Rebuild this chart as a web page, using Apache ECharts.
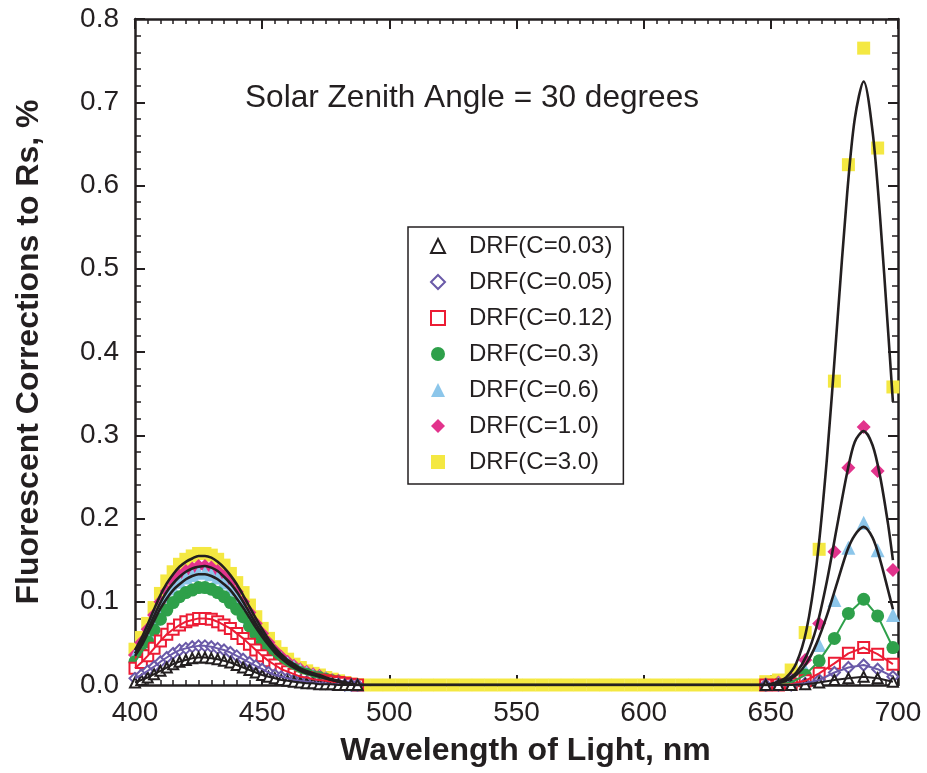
<!DOCTYPE html>
<html>
<head>
<meta charset="utf-8">
<script src="https://cdn.jsdelivr.net/npm/echarts@6/dist/echarts.min.js"></script>
<style>
  html, body { margin: 0; padding: 0; background: #ffffff; }
  #chart { width: 927px; height: 773px; }
</style>
</head>
<body>
<div id="chart"></div>
<script>
// Wavelength grid (nm): blue peak, flat middle band, red (chlorophyll) peak
const WL_BLUE = [400, 402.5, 405, 407.5, 410, 412.5, 415, 417.5, 420, 422.5, 425, 427.5,
  430, 432.5, 435, 437.5, 440, 442.5, 445, 447.5, 450, 452.5, 455, 457.5,
  460, 462.5, 465, 467.5, 470, 472.5, 475, 477.5, 480, 482.5, 485, 487.5];
const WL_MID = [490, 495, 500, 505, 510, 515, 520, 525, 530, 535, 540, 545, 550, 555, 560, 565,
  570, 575, 580, 585, 590, 595, 600, 605, 610, 615, 620, 625, 630, 635, 640, 645];
const WL_RED = [648, 653, 658, 663.5, 669, 675, 680.5, 686.5, 692, 698];
const MID_VALUES = [0, 0, 0, 0, 0, 0, 0, 0, 0, 0, 0, 0, 0, 0, 0, 0,
  0, 0, 0, 0, 0, 0, 0, 0, 0, 0, 0, 0, 0, 0, 0, 0];

// DRF corrections (%) per chlorophyll concentration
const C003_BLUE = [0.003, 0.006, 0.009, 0.013, 0.017, 0.021, 0.025, 0.028, 0.030, 0.032, 0.033, 0.033,
  0.032, 0.031, 0.029, 0.027, 0.024, 0.021, 0.018, 0.015, 0.012, 0.010, 0.008, 0.006,
  0.005, 0.004, 0.003, 0.002, 0.002, 0.001, 0.001, 0.001, 0, 0, 0, 0];
const C003_RED = [0, 0, 0, 0.001, 0.003, 0.006, 0.008, 0.010, 0.008, 0.004];

const C005_BLUE = [0.008, 0.012, 0.017, 0.022, 0.028, 0.033, 0.038, 0.042, 0.044, 0.046, 0.047, 0.047,
  0.046, 0.044, 0.042, 0.039, 0.035, 0.031, 0.027, 0.023, 0.019, 0.015, 0.012, 0.010,
  0.008, 0.006, 0.005, 0.004, 0.003, 0.002, 0.002, 0.001, 0.001, 0, 0, 0];
const C005_RED = [0, 0, 0, 0.002, 0.006, 0.015, 0.021, 0.024, 0.019, 0.010];

const C012_BLUE = [0.020, 0.027, 0.035, 0.044, 0.053, 0.061, 0.067, 0.072, 0.076, 0.078, 0.080, 0.080,
  0.079, 0.076, 0.072, 0.068, 0.062, 0.056, 0.049, 0.042, 0.035, 0.029, 0.024, 0.019,
  0.016, 0.013, 0.010, 0.009, 0.007, 0.006, 0.005, 0.004, 0.003, 0.002, 0.001, 0];
const C012_RED = [0, 0, 0.001, 0.005, 0.014, 0.026, 0.038, 0.045, 0.037, 0.025];

const C030_BLUE = [0.028, 0.039, 0.052, 0.066, 0.079, 0.090, 0.099, 0.106, 0.111, 0.114, 0.117, 0.117,
  0.115, 0.111, 0.106, 0.099, 0.091, 0.082, 0.071, 0.061, 0.050, 0.041, 0.034, 0.028,
  0.023, 0.019, 0.015, 0.013, 0.010, 0.009, 0.007, 0.005, 0.004, 0.002, 0.001, 0];
const C030_RED = [0, 0.001, 0.003, 0.012, 0.029, 0.056, 0.086, 0.103, 0.083, 0.045];

const C060_BLUE = [0.035, 0.048, 0.063, 0.080, 0.094, 0.107, 0.116, 0.124, 0.129, 0.132, 0.135, 0.135,
  0.133, 0.129, 0.123, 0.115, 0.105, 0.094, 0.082, 0.070, 0.058, 0.048, 0.039, 0.032,
  0.026, 0.022, 0.018, 0.015, 0.012, 0.010, 0.008, 0.006, 0.004, 0.003, 0.001, 0];
const C060_RED = [0.001, 0.002, 0.005, 0.018, 0.048, 0.102, 0.165, 0.195, 0.162, 0.084];

const C100_BLUE = [0.036, 0.051, 0.067, 0.084, 0.100, 0.113, 0.123, 0.131, 0.137, 0.140, 0.143, 0.143,
  0.141, 0.137, 0.130, 0.122, 0.112, 0.100, 0.087, 0.074, 0.062, 0.051, 0.041, 0.034,
  0.028, 0.023, 0.019, 0.016, 0.013, 0.011, 0.008, 0.006, 0.005, 0.003, 0.001, 0];
const C100_RED = [0.001, 0.003, 0.007, 0.030, 0.074, 0.160, 0.261, 0.310, 0.257, 0.138];

const C300_BLUE = [0.043, 0.057, 0.074, 0.093, 0.110, 0.125, 0.136, 0.145, 0.151, 0.155, 0.158, 0.158,
  0.156, 0.151, 0.144, 0.134, 0.123, 0.111, 0.096, 0.082, 0.068, 0.056, 0.046, 0.038,
  0.031, 0.025, 0.021, 0.017, 0.014, 0.012, 0.009, 0.007, 0.005, 0.003, 0.001, 0];
const C300_RED = [0.004, 0.006, 0.018, 0.063, 0.163, 0.365, 0.625, 0.765, 0.645, 0.358];

// Fitted curves (C = 0.6, 1.0, 3.0)
const FIT_WL_MID = [490, 550, 600, 645, 648];
const FIT_WL_RED = [652, 656, 660, 664, 668, 672, 676, 680, 683, 686.5, 690, 693, 696, 698];
const FIT_MID = [0, 0, 0, 0, 0];

const FIT300_BLUE = [0.042, 0.056, 0.073, 0.091, 0.108, 0.122, 0.133, 0.142, 0.148, 0.152, 0.155, 0.155,
  0.153, 0.148, 0.141, 0.132, 0.121, 0.108, 0.094, 0.080, 0.067, 0.055, 0.045, 0.037,
  0.030, 0.025, 0.020, 0.017, 0.014, 0.012, 0.009, 0.007, 0.005, 0.003, 0.001, 0];
const FIT300_RED = [0.003, 0.009, 0.026, 0.066, 0.145, 0.27, 0.43, 0.59, 0.68, 0.725, 0.665, 0.56, 0.43, 0.34];

const FIT100_BLUE = [0.038, 0.051, 0.066, 0.083, 0.099, 0.112, 0.122, 0.130, 0.136, 0.140, 0.142, 0.143,
  0.141, 0.137, 0.130, 0.122, 0.112, 0.100, 0.087, 0.074, 0.062, 0.051, 0.042, 0.034,
  0.028, 0.023, 0.019, 0.015, 0.013, 0.011, 0.008, 0.006, 0.004, 0.003, 0.001, 0];
const FIT100_RED = [0.002, 0.006, 0.015, 0.035, 0.07, 0.124, 0.19, 0.255, 0.292, 0.305, 0.288, 0.25, 0.195, 0.15];

const FIT060_BLUE = [0.035, 0.047, 0.062, 0.077, 0.092, 0.104, 0.114, 0.121, 0.127, 0.131, 0.133, 0.133,
  0.131, 0.127, 0.121, 0.114, 0.104, 0.093, 0.081, 0.069, 0.058, 0.048, 0.039, 0.032,
  0.026, 0.021, 0.017, 0.014, 0.012, 0.010, 0.008, 0.006, 0.004, 0.002, 0.001, 0];
const FIT060_RED = [0.002, 0.005, 0.012, 0.026, 0.05, 0.083, 0.122, 0.161, 0.180, 0.19, 0.177, 0.15, 0.115, 0.091];

const X_TICKS = [400, 450, 500, 550, 600, 650, 700];
const Y_TICKS = ['0.0', '0.1', '0.2', '0.3', '0.4', '0.5', '0.6', '0.7', '0.8'];

const LEGEND_NAMES = ['DRF(C=0.03)', 'DRF(C=0.05)', 'DRF(C=0.12)', 'DRF(C=0.3)',
  'DRF(C=0.6)', 'DRF(C=1.0)', 'DRF(C=3.0)'];

// ---------------------------------------------------------------
const INK = '#231f20';
const FONT = '"Liberation Sans", Arial, Helvetica, sans-serif';

const FIT_WL = WL_BLUE.concat(FIT_WL_MID, FIT_WL_RED);

function pairs(xs, ys) { return xs.map((x, i) => [x, ys[i]]); }
// Only the C=3.0 set carries the flat 490-645 nm stretch; the others jump from the blue to the red band
function drfFull(blue, red) { return pairs(WL_BLUE.concat(WL_MID, WL_RED), blue.concat(MID_VALUES, red)); }
function drfSplit(blue, red) { return pairs(WL_BLUE, blue).concat([[null, null]], pairs(WL_RED, red)); }
function fit(blue, red) { return pairs(FIT_WL, blue.concat(FIT_MID, red)); }

function markers(name, data, symbol, size, fill, stroke, bw) {
  return {
    type: 'scatter', name: name, data: data, symbol: symbol, symbolSize: size,
    itemStyle: { color: fill, borderColor: stroke, borderWidth: bw, opacity: 1 },
    emphasis: { disabled: true }, silent: true
  };
}
function joinLine(data, color) {
  return {
    type: 'line', data: data, symbol: 'none', silent: true, connectNulls: false,
    lineStyle: { color: color, width: 2 }, emphasis: { disabled: true }
  };
}
function fitLine(data) {
  return {
    type: 'line', data: data, symbol: 'none', silent: true, smooth: 0.3,
    lineStyle: { color: INK, width: 2.6 }, emphasis: { disabled: true }, z: 5
  };
}

const COLORS = {
  c003: INK, c005: '#6a5aa8', c012: '#ec1c34', c030: '#2ea04a',
  c060: '#8cc6ea', c100: '#e2338c', c300: '#f4e842'
};

const d003 = drfSplit(C003_BLUE, C003_RED);
const d005 = drfSplit(C005_BLUE, C005_RED);
const d012 = drfSplit(C012_BLUE, C012_RED);
const d030 = drfSplit(C030_BLUE, C030_RED);
const d060 = drfSplit(C060_BLUE, C060_RED);
const d100 = drfSplit(C100_BLUE, C100_RED);
const d300 = drfFull(C300_BLUE, C300_RED);

const axisCommonX = {
  type: 'value', min: 400, max: 700, interval: 50,
  axisLine: { onZero: false, lineStyle: { color: INK, width: 2.5 } },
  axisTick: { inside: true, length: 10, lineStyle: { color: INK, width: 2 } },
  minorTick: { show: true, splitNumber: 10, length: 5, lineStyle: { color: INK, width: 1.5 } },
  splitLine: { show: false }
};
const axisCommonY = {
  type: 'value', min: 0, max: 0.8, interval: 0.1,
  axisLine: { onZero: false, lineStyle: { color: INK, width: 2.5 } },
  axisTick: { inside: true, length: 10, lineStyle: { color: INK, width: 2 } },
  minorTick: { show: true, splitNumber: 5, length: 6, lineStyle: { color: INK, width: 1.5 } },
  splitLine: { show: false }
};

const chart = echarts.init(document.getElementById('chart'), null, { renderer: 'canvas' });
chart.setOption({
  animation: false,
  backgroundColor: '#ffffff',
  grid: { left: 135, right: 29, top: 19, bottom: 88, containLabel: false },
  xAxis: [
    Object.assign({}, axisCommonX, {
      position: 'bottom',
      axisLabel: {
        margin: 14, color: INK, fontSize: 28, fontFamily: FONT,
        formatter: v => (X_TICKS.indexOf(v) >= 0 ? String(v) : '')
      },
      name: 'Wavelength of Light, nm', nameLocation: 'middle', nameGap: 50,
      nameTextStyle: { color: INK, fontSize: 32, fontWeight: 'bold', fontFamily: FONT, padding: [0, 0, 0, 18] }
    }),
    Object.assign({}, axisCommonX, { position: 'top', axisLabel: { show: false } })
  ],
  yAxis: [
    Object.assign({}, axisCommonY, {
      position: 'left',
      axisLabel: {
        margin: 16, color: INK, fontSize: 28, fontFamily: FONT,
        formatter: v => Y_TICKS[Math.round(v * 10)]
      },
      name: 'Fluorescent Corrections to Rs, %', nameLocation: 'middle', nameGap: 90,
      nameRotate: 90,
      nameTextStyle: { color: INK, fontSize: 32, fontWeight: 'bold', fontFamily: FONT }
    }),
    Object.assign({}, axisCommonY, { position: 'right', axisLabel: { show: false } })
  ],
  legend: {
    data: LEGEND_NAMES,
    orient: 'vertical', left: 408, top: 227,
    padding: [7, 11, 10, 22],
    itemWidth: 14, itemHeight: 14, itemGap: 12,
    backgroundColor: '#ffffff', borderColor: INK, borderWidth: 1.5, borderRadius: 0,
    formatter: name => '{gap|}' + name,
    textStyle: {
      color: INK, fontSize: 24, fontFamily: FONT, lineHeight: 24,
      rich: { gap: { width: 19, height: 24 } }
    },
    selectedMode: false
  },
  graphic: [{
    type: 'text', left: 245, top: 82,
    style: { text: 'Solar Zenith Angle = 30 degrees', fill: INK, font: '31.6px ' + FONT }
  }],
  series: [
    markers('DRF(C=3.0)', d300, 'rect', 13, COLORS.c300, COLORS.c300, 0),
    markers('DRF(C=1.0)', d100, 'diamond', 14, COLORS.c100, COLORS.c100, 0),
    markers('DRF(C=0.6)', d060, 'triangle', 14, COLORS.c060, COLORS.c060, 0),
    joinLine(d030, COLORS.c030),
    markers('DRF(C=0.3)', d030, 'circle', 13, COLORS.c030, COLORS.c030, 0),
    joinLine(d012, COLORS.c012),
    markers('DRF(C=0.12)', d012, 'rect', 11, '#ffffff', COLORS.c012, 2),
    joinLine(d005, COLORS.c005),
    markers('DRF(C=0.05)', d005, 'diamond', 11, '#ffffff', COLORS.c005, 2),
    joinLine(d003, COLORS.c003),
    markers('DRF(C=0.03)', d003, 'triangle', 10, '#ffffff', COLORS.c003, 2),
    fitLine(fit(FIT060_BLUE, FIT060_RED)),
    fitLine(fit(FIT100_BLUE, FIT100_RED)),
    fitLine(fit(FIT300_BLUE, FIT300_RED))
  ]
});
</script>
</body>
</html>
